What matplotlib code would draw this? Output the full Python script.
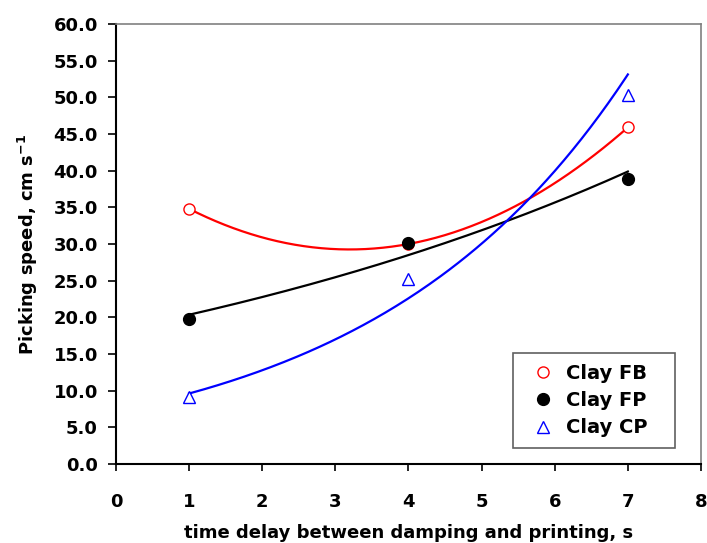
import numpy as np
import matplotlib
matplotlib.use("Agg")
import matplotlib.pyplot as plt

plt.rcParams['font.family'] = ['DejaVu Sans']
plt.rcParams['font.weight'] = 'bold'
plt.rcParams['mathtext.default'] = 'bf'

# Measured picking speeds (cm/s) at each damping-to-printing delay (s)
delay = np.array([1, 4, 7])
clay_fb = np.array([34.8, 30.0, 45.9])
clay_fp = np.array([19.8, 30.1, 38.8])
clay_cp = np.array([9.1, 25.2, 50.3])

x_ticks = np.arange(0, 9, 1)
y_ticks = np.arange(0, 61, 5)

# Trend lines: 2nd order polynomial for FB, exponential for FP and CP
xs = np.linspace(1, 7, 200)
fb_fit = np.polyval(np.polyfit(delay, clay_fb, 2), xs)
b_fp, a_fp = np.polyfit(delay, np.log(clay_fp), 1)
fp_fit = np.exp(a_fp + b_fp * xs)
b_cp, a_cp = np.polyfit(delay, np.log(clay_cp), 1)
cp_fit = np.exp(a_cp + b_cp * xs)

fig = plt.figure(figsize=(7.07, 5.43), dpi=100)
ax = fig.add_axes([0.164, 0.1455, 0.8275, 0.8103])

ax.plot(xs, fb_fit, color='red', lw=1.6, zorder=2)
ax.plot(xs, fp_fit, color='black', lw=1.6, zorder=2)
ax.plot(xs, cp_fit, color='blue', lw=1.6, zorder=2)

ax.plot(delay, clay_fb, 'o', ms=8, mfc='white', mec='red', mew=1.0,
        ls='none', label='Clay FB', zorder=3)
ax.plot(delay, clay_fp, 'o', ms=8.5, mfc='black', mec='black',
        ls='none', label='Clay FP', zorder=4)
ax.plot(delay, clay_cp, '^', ms=9, mfc='white', mec='blue', mew=1.0,
        ls='none', label='Clay CP', zorder=3)

ax.set_xlim(0, 8)
ax.set_ylim(0, 60)
ax.set_xticks(x_ticks)
ax.set_yticks(y_ticks)
ax.set_yticklabels([f'{v:.1f}' for v in y_ticks])
ax.tick_params(axis='both', labelsize=13, width=1.2, direction='out')
ax.tick_params(axis='x', length=5, pad=16)
ax.tick_params(axis='y', length=6, pad=7)

for side in ('left', 'bottom'):
    ax.spines[side].set_color('black')
    ax.spines[side].set_linewidth(1.5)
for side in ('top', 'right'):
    ax.spines[side].set_color('#808080')
    ax.spines[side].set_linewidth(1.2)

ax.set_xlabel('time delay between damping and printing, s', fontsize=13,
              fontweight='bold', labelpad=9)
ax.set_ylabel(r'Picking speed, cm s$^{-1}$', fontsize=13,
              fontweight='bold', labelpad=10)

# legend box stretched to a fixed width in the lower right corner
leg = ax.legend(loc='lower left', bbox_to_anchor=(0.679, 0.036, 0.277, 0.2),
                mode='expand', fontsize=14, fancybox=False, framealpha=1,
                edgecolor='#606060', handletextpad=0.15, handlelength=2.0,
                borderpad=0.55, labelspacing=0.42, borderaxespad=0)
leg.get_frame().set_linewidth(1.2)

fig.savefig('out.png', dpi=100)
